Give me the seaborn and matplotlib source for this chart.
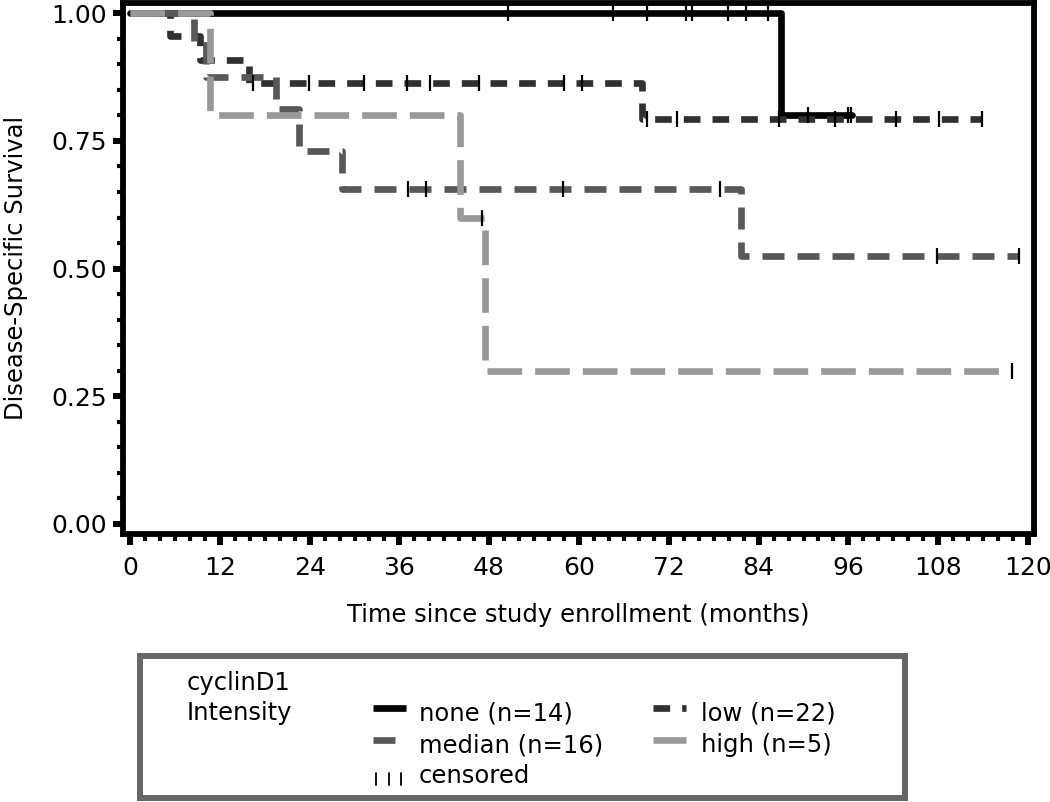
import numpy as np
import pandas as pd
import matplotlib
matplotlib.use("Agg")
import matplotlib.pyplot as plt
import seaborn as sns
from matplotlib.ticker import MultipleLocator, FormatStrFormatter, FixedLocator
from matplotlib.patches import Rectangle
from matplotlib.lines import Line2D

# ---------------- data ----------------
groups = ["none", "low", "median", "high"]
group_labels = ["none (n=14)", "low (n=22)", "median (n=16)", "high (n=5)"]

none_time = [0.0, 87.0, 96.5]
none_surv = [1.0, 0.80, 0.80]
low_time = [0.0, 5.3, 9.4, 15.9, 68.4, 113.9]
low_surv = [1.0, 0.955, 0.909, 0.864, 0.792, 0.792]
median_time = [0.0, 8.5, 10.1, 19.5, 22.6, 28.3, 81.7, 118.8]
median_surv = [1.0, 0.9375, 0.875, 0.8125, 0.73, 0.655, 0.525, 0.525]
high_time = [0.0, 10.7, 44.1, 47.5, 117.9]
high_surv = [1.0, 0.80, 0.60, 0.30, 0.30]

none_censored = [50.5, 64.6, 69.1, 74.3, 75.1, 79.9, 82.3, 85.3, 90.6, 96.0, 96.3]
low_censored = [16.4, 23.9, 31.3, 37.0, 40.1, 46.6, 58.0, 60.4, 69.1, 73.1,
                86.7, 94.2, 102.4, 108.1, 113.9]
median_censored = [37.1, 39.5, 57.9, 78.8, 107.8, 118.8]
high_censored = [47.1, 117.9]

x_ticks = [0, 12, 24, 36, 48, 60, 72, 84, 96, 108, 120]
y_ticks = [0.00, 0.25, 0.50, 0.75, 1.00]

x_label = "Time since study enrollment (months)"
y_label = "Disease-Specific Survival"
legend_title = ["cyclinD1", "Intensity"]

# ---------------- styles ----------------
W, H = 1050, 802
colors = {"none": "#000000", "low": "#303030", "median": "#585858", "high": "#999999"}
styles = {"none": "-", "low": (0, (2.5, 1.8)), "median": (0, (3.3, 1.95)),
          "high": (0, (5.2, 1.95))}
LW = 4.8
FS_TICK = 18
FS = 17.5

sns.set_style("ticks")
plt.rcParams["font.family"] = ["DejaVu Sans"]
plt.rcParams["text.color"] = "black"

fig = plt.figure(figsize=(W / 100, H / 100), dpi=100)
left_px, right_px, top_px, bottom_px = 123, 1034, 2.5, 533.5
ax = fig.add_axes([left_px / W, 1 - bottom_px / H,
                   (right_px - left_px) / W, (bottom_px - top_px) / H])

series = {
    "none": (none_time, none_surv, none_censored),
    "low": (low_time, low_surv, low_censored),
    "median": (median_time, median_surv, median_censored),
    "high": (high_time, high_surv, high_censored),
}

for g in groups:
    t, s, _ = series[g]
    df = pd.DataFrame({"time": t, "surv": s})
    sns.lineplot(data=df, x="time", y="surv", drawstyle="steps-post",
                 color=colors[g], linewidth=LW, linestyle=styles[g],
                 estimator=None, legend=False, ax=ax, zorder=2)

for g in groups:
    t, s, c = series[g]
    t_arr = np.asarray(t)
    s_arr = np.asarray(s)
    idx = np.searchsorted(t_arr, np.asarray(c), side="right") - 1
    cdf = pd.DataFrame({"time": c, "surv": s_arr[idx]})
    sns.scatterplot(data=cdf, x="time", y="surv", marker="|", s=140,
                    color="black", linewidth=1.6, legend=False, ax=ax, zorder=4)

ax.set_xlim(-0.94, 120.8)
ax.set_ylim(-0.0186, 1.021)
ax.xaxis.set_major_locator(FixedLocator(x_ticks))
ax.xaxis.set_minor_locator(MultipleLocator(2))
ax.yaxis.set_major_locator(FixedLocator(y_ticks))
ax.yaxis.set_minor_locator(MultipleLocator(0.05))
ax.yaxis.set_major_formatter(FormatStrFormatter("%.2f"))

for sp in ax.spines.values():
    sp.set_visible(True)
    sp.set_color("black")
    sp.set_linewidth(4.2)

ax.tick_params(axis="x", which="major", length=8, width=4.3, pad=8,
               labelsize=FS_TICK, colors="black", direction="out")
ax.tick_params(axis="x", which="minor", length=4.7, width=3,
               colors="black", direction="out")
ax.tick_params(axis="y", which="major", length=7, width=4.3, pad=4.5,
               labelsize=FS_TICK, colors="black", direction="out")
ax.tick_params(axis="y", which="minor", length=4.3, width=3,
               colors="black", direction="out")

ax.set_xlabel(x_label, fontsize=FS, color="black")
ax.set_ylabel(y_label, fontsize=FS, color="black")
ax.xaxis.set_label_coords(0.5, -0.131)
ax.yaxis.set_label_coords(-0.104, 0.5)


# ---------------- legend (manual box) ----------------
def fx(px):
    return px / W


def fy(py):
    return 1 - py / H


fig.add_artist(Rectangle((fx(140), fy(798)), fx(904.5) - fx(140), fy(655.5) - fy(798),
                         transform=fig.transFigure, facecolor="white",
                         edgecolor="#666666", linewidth=4.3, zorder=1))

fig.text(fx(187), fy(690), legend_title[0], fontsize=FS, va="baseline", ha="left",
         color="black")
fig.text(fx(187), fy(720), legend_title[1], fontsize=FS, va="baseline", ha="left",
         color="black")

entries = [
    ("none", 373, 419, 708, 720),
    ("low", 653, 701, 708, 720),
    ("median", 373, 419, 740, 752),
    ("high", 653, 701, 740, 752),
]
for g, lx, tx, ly, ty in entries:
    fig.add_artist(Line2D([fx(lx), fx(lx + 33)], [fy(ly), fy(ly)],
                          transform=fig.transFigure, color=colors[g],
                          linewidth=LW, linestyle=styles[g],
                          solid_capstyle="butt", zorder=3))
    fig.text(fx(tx), fy(ty), group_labels[groups.index(g)], fontsize=FS,
             va="baseline", ha="left", color="black")

for cx in [376, 389, 401]:
    fig.add_artist(Line2D([fx(cx), fx(cx)], [fy(773), fy(785)],
                          transform=fig.transFigure, color="black",
                          linewidth=1.3, zorder=3))
fig.text(fx(419), fy(783), "censored", fontsize=FS, va="baseline", ha="left",
         color="black")

fig.savefig("out.png", dpi=100, facecolor="white")
